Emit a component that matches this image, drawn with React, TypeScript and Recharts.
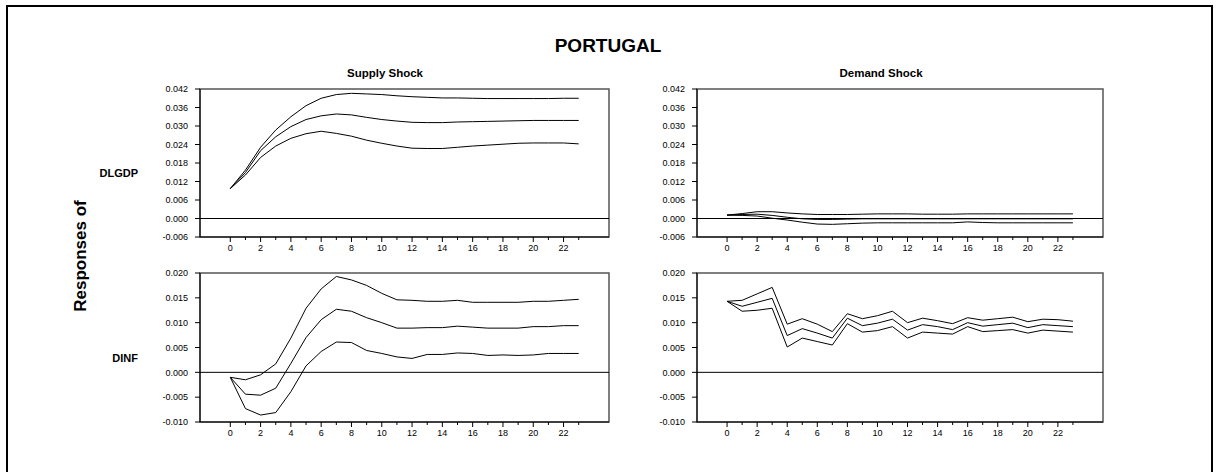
import { LineChart, Line, XAxis, YAxis, ReferenceLine, ReferenceArea } from 'recharts'

// horizon (periods after shock)
const steps = Array.from({ length: 24 }, (_, i) => i)
const xTicks = steps

const gdpTicks = [-0.006, 0, 0.006, 0.012, 0.018, 0.024, 0.03, 0.036, 0.042]
const infTicks = [-0.01, -0.005, 0, 0.005, 0.01, 0.015, 0.02]

// DLGDP <- supply shock
const gdpSupplyHi = [0.0097, 0.0157, 0.0231, 0.0287, 0.033, 0.0366, 0.039, 0.0402, 0.0406, 0.0404, 0.0402, 0.0398, 0.0395, 0.0393, 0.0391, 0.0391, 0.039, 0.0389, 0.0389, 0.0389, 0.0389, 0.0389, 0.039, 0.039]
const gdpSupplyMid = [0.0097, 0.0149, 0.022, 0.0265, 0.0298, 0.0321, 0.0333, 0.0339, 0.0336, 0.0328, 0.0321, 0.0316, 0.0312, 0.0311, 0.0311, 0.0313, 0.0314, 0.0315, 0.0316, 0.0317, 0.0318, 0.0318, 0.0318, 0.0318]
const gdpSupplyLo = [0.0097, 0.0141, 0.0198, 0.0235, 0.026, 0.0275, 0.0283, 0.0276, 0.0267, 0.0254, 0.0244, 0.0235, 0.0228, 0.0227, 0.0227, 0.0231, 0.0235, 0.0238, 0.0241, 0.0244, 0.0245, 0.0245, 0.0245, 0.0242]

// DLGDP <- demand shock
const gdpDemandHi = [0.0011, 0.0016, 0.0022, 0.0022, 0.0018, 0.0015, 0.0013, 0.0013, 0.0013, 0.0014, 0.0015, 0.0015, 0.0015, 0.0014, 0.0014, 0.0014, 0.0015, 0.0015, 0.0015, 0.0015, 0.0015, 0.0015, 0.0015, 0.0015]
const gdpDemandMid = [0.0011, 0.0013, 0.0014, 0.001, 0.0004, -0.0001, -0.0003, -0.0003, -0.0002, -0.0001, -0.0001, -0.0001, -0.0001, -0.0001, -0.0001, -0.0001, -0.0001, -0.0001, -0.0001, -0.0001, -0.0001, -0.0001, -0.0001, -0.0001]
const gdpDemandLo = [0.0011, 0.001, 0.0008, 0.0001, -0.0005, -0.0012, -0.0018, -0.0019, -0.0017, -0.0015, -0.0014, -0.0014, -0.0014, -0.0014, -0.0014, -0.0014, -0.0011, -0.0013, -0.0014, -0.0014, -0.0014, -0.0014, -0.0014, -0.0014]

// DINF <- supply shock
const infSupplyHi = [-0.001, -0.0015, -0.0005, 0.0017, 0.0069, 0.0129, 0.0168, 0.0193, 0.0186, 0.0175, 0.0159, 0.0146, 0.0145, 0.0143, 0.0143, 0.0145, 0.0141, 0.0141, 0.0141, 0.0141, 0.0143, 0.0143, 0.0145, 0.0147]
const infSupplyMid = [-0.001, -0.0044, -0.0046, -0.0032, 0.0018, 0.007, 0.0106, 0.0127, 0.0123, 0.011, 0.01, 0.0089, 0.0089, 0.009, 0.009, 0.0093, 0.0091, 0.0089, 0.0089, 0.0089, 0.0092, 0.0092, 0.0094, 0.0094]
const infSupplyLo = [-0.001, -0.0073, -0.0086, -0.0081, -0.0039, 0.0013, 0.0042, 0.0061, 0.006, 0.0044, 0.0038, 0.0031, 0.0028, 0.0036, 0.0036, 0.0039, 0.0038, 0.0034, 0.0035, 0.0034, 0.0035, 0.0038, 0.0038, 0.0038]

// DINF <- demand shock
const infDemandHi = [0.0143, 0.0145, 0.0158, 0.0171, 0.0097, 0.0108, 0.0097, 0.0082, 0.0118, 0.0108, 0.0114, 0.0123, 0.01, 0.0109, 0.0104, 0.0098, 0.011, 0.0105, 0.0108, 0.0111, 0.0102, 0.0107, 0.0106, 0.0103]
const infDemandMid = [0.0143, 0.0133, 0.0141, 0.0149, 0.0074, 0.0088, 0.0079, 0.0069, 0.0109, 0.0094, 0.0099, 0.0107, 0.0085, 0.0096, 0.0092, 0.0086, 0.01, 0.0093, 0.0096, 0.0099, 0.009, 0.0096, 0.0094, 0.0092]
const infDemandLo = [0.0143, 0.0123, 0.0125, 0.0129, 0.0051, 0.0069, 0.0062, 0.0055, 0.0098, 0.0081, 0.0084, 0.0092, 0.0069, 0.0081, 0.0079, 0.0077, 0.0092, 0.0082, 0.0084, 0.0086, 0.0079, 0.0085, 0.0083, 0.0081]

const FONT = '"Liberation Sans", Arial, sans-serif'

const XTick = (props: any) => {
  const { x, y, payload } = props
  const major = payload.value % 2 === 0
  return (
    <g>
      <line x1={x} x2={x} y1={y} y2={y + (major ? 5 : 3)} stroke="#000" />
      {major && (
        <text x={x} y={y + 14} textAnchor="middle" fontSize={9} fill="#000" fontFamily={FONT}>
          {payload.value}
        </text>
      )}
    </g>
  )
}

type PanelProps = {
  left: number
  top: number
  plotW: number
  plotH: number
  hi: number[]
  mid: number[]
  lo: number[]
  yTicks: number[]
}

const Panel = ({ left, top, plotW, plotH, hi, mid, lo, yTicks }: PanelProps) => {
  const data = steps.map((t, i) => ({ t, hi: hi[i], mid: mid[i], lo: lo[i] }))
  const yMin = yTicks[0]
  const yMax = yTicks[yTicks.length - 1]
  return (
    <div style={{ position: 'absolute', left: left - 50, top: top - 5 }}>
      <LineChart
        width={50 + plotW + 10}
        height={5 + plotH + 25}
        data={data}
        margin={{ top: 5, right: 10, bottom: 0, left: 0 }}
      >
        <ReferenceArea x1={-2} x2={25} y1={yMin} y2={yMax} fill="none" stroke="#555" strokeWidth={1.5} />
        <XAxis
          dataKey="t"
          type="number"
          domain={[-2, 25]}
          ticks={xTicks}
          interval={0}
          height={25}
          tickSize={0}
          tickMargin={0}
          tick={<XTick />}
          axisLine={{ stroke: '#000' }}
          allowDataOverflow
        />
        <YAxis
          type="number"
          domain={[yMin, yMax]}
          ticks={yTicks}
          interval={0}
          width={50}
          tickSize={5}
          tickMargin={7}
          tickLine={{ stroke: '#000' }}
          axisLine={{ stroke: '#000' }}
          tick={{ fontSize: 9, fill: '#000', fontFamily: FONT }}
          tickFormatter={(v: number) => v.toFixed(3)}
          allowDataOverflow
        />
        <ReferenceLine y={0} stroke="#000" />
        <Line type="linear" dataKey="hi" stroke="#000" strokeWidth={1} dot={false} isAnimationActive={false} />
        <Line type="linear" dataKey="mid" stroke="#000" strokeWidth={1} dot={false} isAnimationActive={false} />
        <Line type="linear" dataKey="lo" stroke="#000" strokeWidth={1} dot={false} isAnimationActive={false} />
      </LineChart>
    </div>
  )
}

export default function App() {
  return (
    <div
      style={{
        position: 'absolute',
        left: 0,
        top: 0,
        width: 1219,
        height: 472,
        overflow: 'hidden',
        background: '#fff',
        fontFamily: FONT,
      }}
    >
      <div
        style={{
          position: 'absolute',
          left: 6,
          top: 5,
          width: 1203,
          height: 490,
          border: '2px solid #000',
        }}
      />
      <svg width={1219} height={472} style={{ position: 'absolute', left: 0, top: 0 }}>
        <text x={608} y={45} textAnchor="middle" dominantBaseline="central" fontSize={19} fontWeight="bold" fontFamily={FONT}>
          PORTUGAL
        </text>
        <text x={385} y={73} textAnchor="middle" dominantBaseline="central" fontSize={11.5} fontWeight="bold" fontFamily={FONT}>
          Supply Shock
        </text>
        <text x={881} y={73} textAnchor="middle" dominantBaseline="central" fontSize={11.5} fontWeight="bold" fontFamily={FONT}>
          Demand Shock
        </text>
        <text
          x={80}
          y={256}
          textAnchor="middle"
          dominantBaseline="central"
          fontSize={17}
          fontWeight="bold"
          fontFamily={FONT}
          transform="rotate(-90 80 256)"
        >
          Responses of
        </text>
        <text x={138} y={173} textAnchor="end" dominantBaseline="central" fontSize={11} fontWeight="bold" fontFamily={FONT}>
          DLGDP
        </text>
        <text x={138} y={358} textAnchor="end" dominantBaseline="central" fontSize={11} fontWeight="bold" fontFamily={FONT}>
          DINF
        </text>
      </svg>
      <Panel left={200} top={89} plotW={409} plotH={148} hi={gdpSupplyHi} mid={gdpSupplyMid} lo={gdpSupplyLo} yTicks={gdpTicks} />
      <Panel left={697} top={89} plotW={406} plotH={148} hi={gdpDemandHi} mid={gdpDemandMid} lo={gdpDemandLo} yTicks={gdpTicks} />
      <Panel left={200} top={273} plotW={409} plotH={149} hi={infSupplyHi} mid={infSupplyMid} lo={infSupplyLo} yTicks={infTicks} />
      <Panel left={697} top={273} plotW={406} plotH={149} hi={infDemandHi} mid={infDemandMid} lo={infDemandLo} yTicks={infTicks} />
    </div>
  )
}
